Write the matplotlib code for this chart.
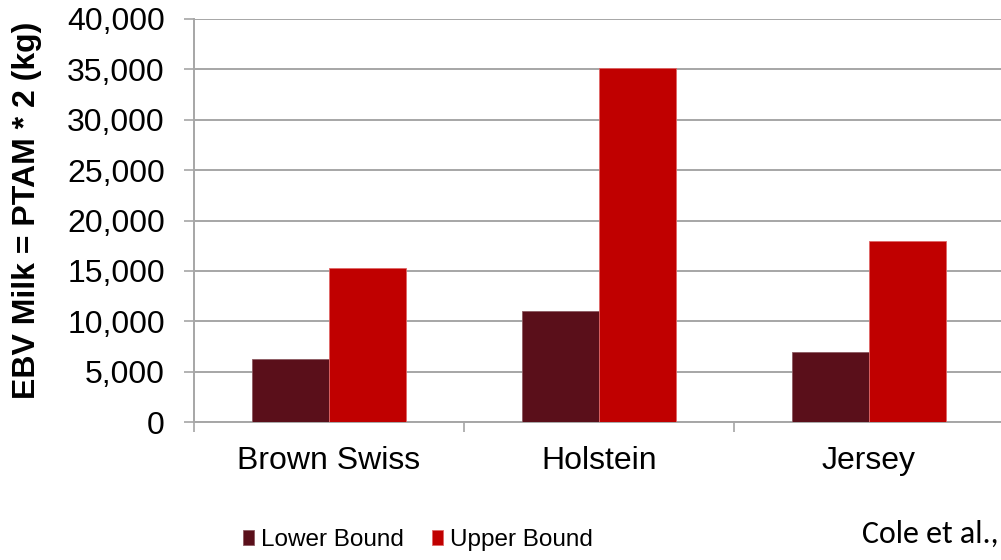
import matplotlib
matplotlib.use('Agg')
import matplotlib.pyplot as plt
import numpy as np

breeds = ['Brown Swiss', 'Holstein', 'Jersey']
lower_bound = [6300, 11000, 6950]
upper_bound = [15300, 35100, 17950]
yticks = [0, 5000, 10000, 15000, 20000, 25000, 30000, 35000, 40000]

dark = '#5a0f1a'
red = '#c00000'
grid_col = '#a6a6a6'

plt.rcParams['font.family'] = ['Liberation Sans', 'DejaVu Sans']

fig = plt.figure(figsize=(10.01, 5.6), dpi=100)
ax = fig.add_axes([194 / 1001, 1 - 422 / 560, 810 / 1001, 403 / 560])

x = np.arange(len(breeds))
w = 0.285
ax.bar(x - w / 2, lower_bound, w, color=dark, edgecolor='#8c5a62', linewidth=0.6,
       label='Lower Bound', zorder=3)
ax.bar(x + w / 2, upper_bound, w, color=red, edgecolor='#e06666', linewidth=0.6,
       label='Upper Bound', zorder=3)

ax.set_xlim(-0.5, 2.5)
ax.set_ylim(0, 40000)
ax.set_yticks(yticks)
ax.set_yticklabels(['{:,}'.format(v) for v in yticks], fontsize=23)
ax.yaxis.grid(True, color=grid_col, linewidth=1.4, zorder=0)
ax.tick_params(axis='y', length=7, width=1.2, color=grid_col, pad=14)

ax.set_xticks(x)
ax.set_xticklabels(breeds, fontsize=23)
ax.tick_params(axis='x', which='major', length=0, pad=17)
ax.set_xticks([-0.5, 0.5, 1.5, 2.5], minor=True)
ax.tick_params(axis='x', which='minor', length=7, width=1.2, color=grid_col)

for s in ['top', 'right']:
    ax.spines[s].set_visible(False)
for s in ['left', 'bottom']:
    ax.spines[s].set_color(grid_col)
    ax.spines[s].set_linewidth(1.4)

ax.set_ylabel('EBV Milk = PTAM * 2 (kg)', fontsize=23, fontweight='bold')
ax.yaxis.set_label_coords(-0.188, 0.526)

# legend sits under the categories, a bit left of centre
leg = ax.legend(loc='center', bbox_to_anchor=(224 / 810, -118 / 403), ncol=2, frameon=False,
                prop={'size': 17.5},
                handlelength=0.45, handleheight=0.62, handletextpad=0.3,
                columnspacing=1.15)

fig.text(862 / 1001, 1 - 543 / 560, 'Cole et al.,', fontsize=23,
         family=['Carlito', 'Lato', 'DejaVu Sans'], ha='left', va='baseline')

fig.savefig('out.png', dpi=100)
